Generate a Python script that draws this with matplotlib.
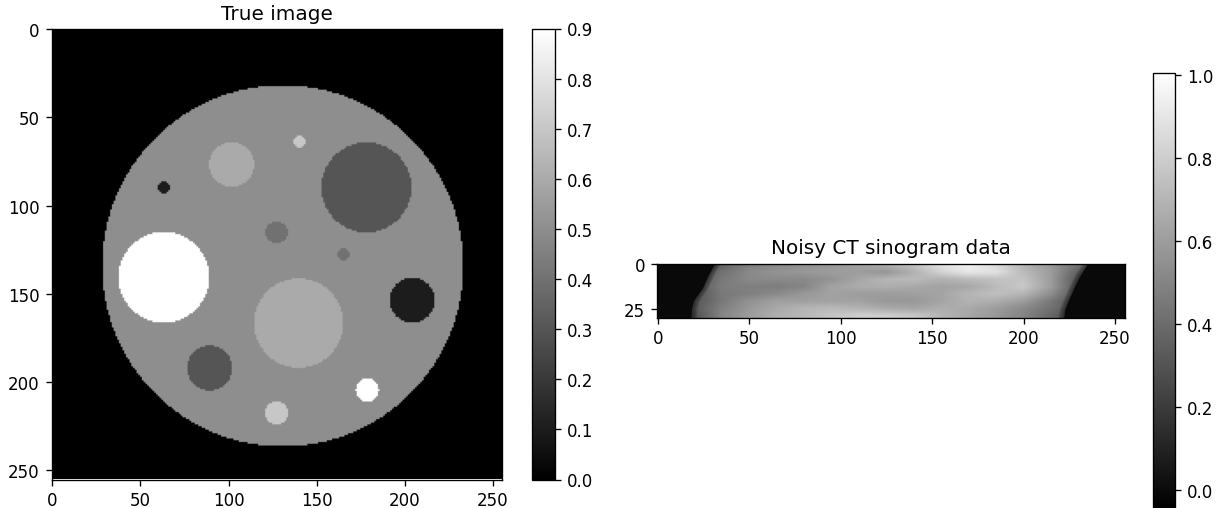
import numpy as np
import matplotlib
matplotlib.use("Agg")
import matplotlib.pyplot as plt

W, H = 1225., 509.

# phantom discs (background disc first, later discs on top)
disc_x = [130.5, 101.5, 140, 178, 63, 127, 165, 63, 139.5, 204, 89, 178.5, 127]
disc_y = [134.5, 77, 64, 90, 90, 115.5, 128, 141, 167, 154, 192.5, 205, 218]
disc_r = [102.5, 12.7, 3.2, 25.5, 3.2, 6.2, 3.2, 25.8, 25.4, 12.8, 12.8, 6.5, 6.5]
disc_val = [0.5, 0.6, 0.7, 0.3, 0.1, 0.4, 0.4, 0.9, 0.6, 0.1, 0.3, 0.9, 0.7]

# sinogram brightness estimated on a coarse grid, every 15 columns / 4 rows
sino_cols = [5, 20, 35, 50, 65, 80, 95, 110, 125, 140, 155, 170, 185, 200, 215, 230, 245, 260]
sino_rows = [0, 4, 8, 12, 16, 20, 24, 28]
sino_0 = [.22, .25, .35, .47, .52, .55, .58, .62, .67, .75, .88, .95, .85, .70, .58, .42, .28, .02]
sino_4 = [.22, .27, .42, .52, .56, .58, .60, .60, .57, .68, .82, .90, .88, .72, .60, .35, .25, .02]
sino_8 = [.22, .28, .45, .52, .52, .52, .56, .64, .70, .72, .68, .72, .75, .76, .60, .30, .22, .02]
sino_12 = [.22, .30, .47, .48, .47, .50, .62, .66, .67, .65, .62, .64, .72, .78, .60, .30, .20, .02]
sino_16 = [.22, .30, .45, .48, .52, .58, .62, .60, .60, .61, .63, .70, .74, .70, .54, .30, .20, .02]
sino_20 = [.22, .30, .45, .55, .61, .61, .62, .62, .58, .58, .63, .69, .67, .60, .45, .28, .15, .02]
sino_24 = [.22, .32, .48, .58, .65, .70, .71, .69, .65, .63, .67, .65, .60, .52, .42, .28, .15, .02]
sino_28 = [.18, .28, .50, .60, .67, .71, .76, .80, .80, .77, .70, .64, .58, .50, .38, .25, .15, .02]

# where the sinogram falls to the dark background
edge_rows = [-0.5, 6, 13, 20, 25, 29.5]
edge_left = [31, 27.5, 24.4, 19.5, 18.3, 18]
edge_right = [235, 231, 227.5, 224.5, 222.5, 222]
dark_level = -0.005

ticks = [0, 50, 100, 150, 200, 250]
cbar1_ticks = [0.0, 0.1, 0.2, 0.3, 0.4, 0.5, 0.6, 0.7, 0.8, 0.9]
cbar2_ticks = [0.0, 0.2, 0.4, 0.6, 0.8, 1.0]


def px_axes(fig, left, right, top, bottom):
    return fig.add_axes([left/W, 1-bottom/H, (right-left)/W, (bottom-top)/H])


fig = plt.figure(figsize=(W/120, H/120), dpi=120)

##################### true image #####################
ax1 = px_axes(fig, 51, 503, 29.5, 480.5)
cax1 = px_axes(fig, 532, 555, 29.5, 480.5)

centers = np.arange(256)
xx, yy = np.meshgrid(centers, centers)
phantom = np.zeros((256, 256))
for x0, y0, r, v in zip(disc_x, disc_y, disc_r, disc_val):
    phantom[(xx-x0)**2+(yy-y0)**2 <= r**2] = v

im1 = ax1.imshow(phantom, cmap='gray', vmin=0, vmax=0.9)
ax1.set_title('True image')
ax1.set_xticks(ticks)
ax1.set_yticks(ticks)
fig.colorbar(im1, cax=cax1, ticks=cbar1_ticks)

##################### sinogram #####################
ax2 = px_axes(fig, 657, 1125, 264.5, 318.5)
cax2 = px_axes(fig, 1153, 1175, 73.5, 509.7)

sino = np.array([sino_0, sino_4, sino_8, sino_12, sino_16, sino_20, sino_24, sino_28])
norm2 = plt.Normalize(-0.045, 1.005)
im2 = ax2.imshow(sino, cmap='gray', norm=norm2, interpolation='bilinear', aspect='auto',
                 extent=(sino_cols[0]-7.5, sino_cols[-1]+7.5, sino_rows[-1]+2, sino_rows[0]-2))
dark = plt.get_cmap('gray')(norm2(dark_level))
ax2.fill_betweenx(edge_rows, -0.5, edge_left, color=dark, lw=0)
ax2.fill_betweenx(edge_rows, edge_right, 255.5, color=dark, lw=0)
# soft shoulder just inside the dark sides
for off in [1, 2, 3]:
    ax2.fill_betweenx(edge_rows, -0.5, np.array(edge_left)+off, color=dark, lw=0, alpha=0.2)
    ax2.fill_betweenx(edge_rows, np.array(edge_right)-off, 255.5, color=dark, lw=0, alpha=0.2)
ax2.set_xlim(-0.5, 255.5)
ax2.set_ylim(29.5, -0.5)
ax2.set_title('Noisy CT sinogram data')
ax2.set_xticks(ticks)
ax2.set_yticks([0, 25])
fig.colorbar(im2, cax=cax2, ticks=cbar2_ticks)

plt.savefig('out.png', dpi=120)
